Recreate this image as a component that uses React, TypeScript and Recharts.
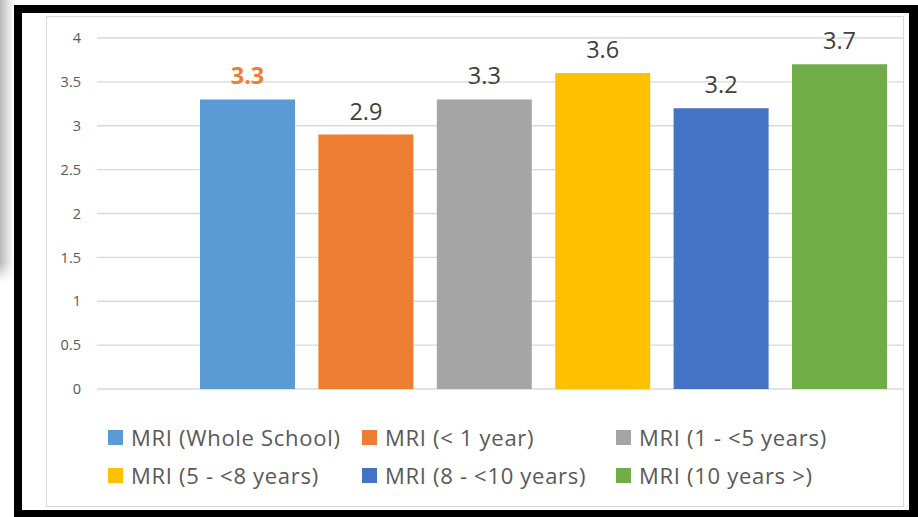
import React from 'react';
import { BarChart, Bar, XAxis, YAxis, CartesianGrid, LabelList, Legend } from 'recharts';

const categories = [
  'MRI (Whole School)',
  'MRI (< 1 year)',
  'MRI (1 - <5 years)',
  'MRI (5 - <8 years)',
  'MRI (8 - <10 years)',
  'MRI (10 years >)',
];
const values = [3.3, 2.9, 3.3, 3.6, 3.2, 3.7];
const colors = ['#5B9BD5', '#ED7D31', '#A5A5A5', '#FFC000', '#4472C4', '#70AD47'];
const labelColors = ['#ED7D31', '#404040', '#404040', '#404040', '#404040', '#404040'];
const yTicks = [0, 0.5, 1, 1.5, 2, 2.5, 3, 3.5, 4];

const keys = categories.map((_, i) => 's' + i);
const row: Record<string, any> = { name: '' };
keys.forEach((k, i) => {
  row[k] = values[i];
});
const data = [row];

const FONT = '"Open Sans", "Liberation Sans", Arial, sans-serif';

const renderLegend = () => {
  return (
    <div style={{ position: 'relative', width: 918, height: 80, fontFamily: FONT }}>
      {categories.map((name, i) => {
        const col = i % 3;
        const r = Math.floor(i / 3);
        return (
          <div
            key={i}
            style={{
              position: 'absolute',
              left: 108 + col * 254,
              top: r * 38,
              display: 'flex',
              alignItems: 'center',
              height: 24,
              whiteSpace: 'nowrap',
            }}
          >
            <span style={{ display: 'inline-block', width: 15, height: 15, background: colors[i], marginRight: 8 }} />
            <span style={{ fontSize: 22, letterSpacing: 0.7, color: '#595959', lineHeight: '24px' }}>{name}</span>
          </div>
        );
      })}
    </div>
  );
};

export default function App() {
  return (
    <div style={{ position: 'fixed', left: 0, top: 0, width: 918, height: 517, background: '#fff', overflow: 'hidden' }}>
      <div
        style={{
          position: 'absolute',
          left: 0,
          top: 0,
          width: 14,
          height: 282,
          background: 'linear-gradient(to right, #b8b8b8, #ffffff)',
          WebkitMaskImage: 'linear-gradient(to bottom, black 93%, transparent)',
          maskImage: 'linear-gradient(to bottom, black 93%, transparent)',
        }}
      />
      <div
        style={{
          position: 'absolute',
          left: 14,
          top: 5,
          width: 904,
          height: 512,
          boxSizing: 'border-box',
          borderStyle: 'solid',
          borderColor: '#000',
          borderWidth: '8px 9px 7px 8px',
        }}
      />
      <div
        style={{
          position: 'absolute',
          left: 46,
          top: 16,
          width: 858,
          height: 491,
          boxSizing: 'border-box',
          border: '1px solid #d9d9d9',
        }}
      />
      <div style={{ position: 'absolute', left: 0, top: 0 }}>
        <BarChart
          width={918}
          height={517}
          data={data}
          margin={{ top: 38, right: 15, bottom: 128, left: 0 }}
          barSize={95}
          barGap={23.4}
        >
          <CartesianGrid horizontal vertical={false} stroke="#d9d9d9" strokeWidth={1.3} />
          <XAxis dataKey="name" type="category" hide padding={{ left: 100, right: 13 }} />
          <YAxis
            width={97}
            domain={[0, 4]}
            ticks={yTicks}
            interval={0}
            axisLine={false}
            tickLine={false}
            tickSize={0}
            tickMargin={16}
            tick={{ fill: '#595959', fontSize: 14.5, fontFamily: FONT }}
          />
          <Legend
            layout="horizontal"
            verticalAlign="middle"
            align="center"
            content={renderLegend}
            wrapperStyle={{ position: 'absolute', left: 0, top: 425, width: 918, height: 80 }}
          />
          {keys.map((k, i) => (
            <Bar key={k} dataKey={k} name={categories[i]} fill={colors[i]} isAnimationActive={false}>
              <LabelList
                dataKey={k}
                position="top"
                offset={15}
                fill={labelColors[i]}
                fontSize={23.5}
                fontWeight={i === 0 ? 700 : 400}
                fontFamily={FONT}
              />
            </Bar>
          ))}
        </BarChart>
      </div>
    </div>
  );
}
